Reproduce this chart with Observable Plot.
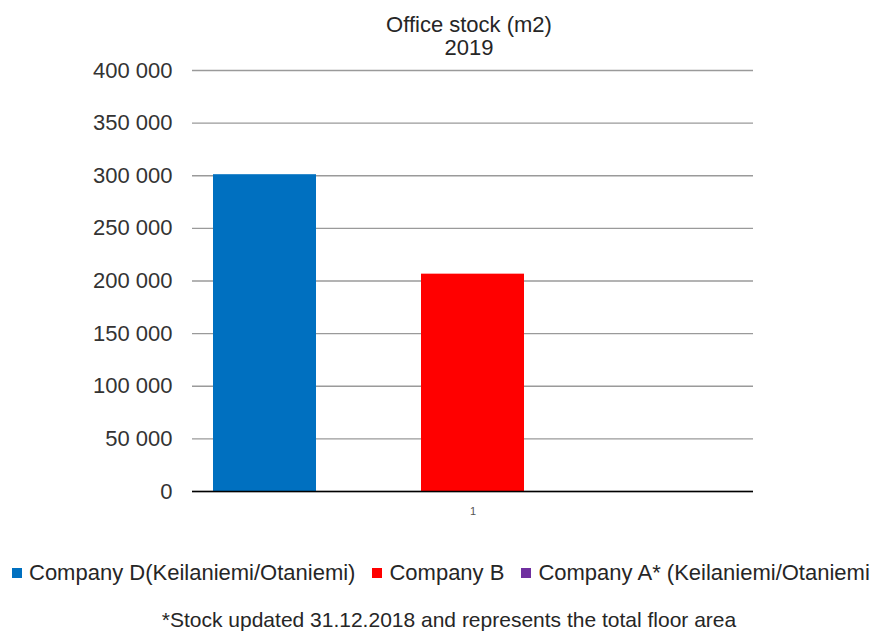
<!DOCTYPE html>
<html>
<head>
<meta charset="utf-8">
<script src="https://cdn.jsdelivr.net/npm/d3@7"></script>
<script src="https://cdn.jsdelivr.net/npm/@observablehq/plot@0.6"></script>
<style>
  html, body { margin: 0; padding: 0; background: #fff; }
  body { font-family: "Liberation Sans", Arial, sans-serif; color: #262626; }
  #wrap { position: relative; width: 875px; height: 631px; overflow: hidden; }
  #chart { position: absolute; left: 0; top: 0; }
  .title { position: absolute; left: 0; width: 938px; text-align: center; font-size: 22px; line-height: 23px; }
  #legend { position: absolute; left: 12px; top: 560px; display: flex; align-items: center; font-size: 22px; white-space: nowrap; }
  .item { display: flex; align-items: center; margin-right: 17px; }
  .sw { width: 10px; height: 10px; margin-right: 7px; }
  #caption { position: absolute; left: 0; width: 898px; top: 608px; text-align: center; font-size: 21px; white-space: nowrap; }
</style>
</head>
<body>
<div id="wrap">
  <div id="chart"></div>
  <div class="title" style="top:13px">Office stock (m2)</div>
  <div class="title" style="top:36px">2019</div>
  <div id="legend"></div>
  <div id="caption">*Stock updated 31.12.2018 and represents the total floor area</div>
</div>
<script>
// Data
const categories = ["1"];
const seriesNames = ["Company D(Keilaniemi/Otaniemi)", "Company B", "Company A* (Keilaniemi/Otaniemi"];
const seriesValues = [301000, 206500, 0];
const seriesColors = ["#0070C0", "#FF0000", "#7030A0"];
const yTicks = [0, 50000, 100000, 150000, 200000, 250000, 300000, 350000, 400000];

const rows = seriesNames.map((s, i) => ({cat: categories[0], series: s, value: seriesValues[i]}));
const fmt = d => d3.format(",")(d).replace(/,/g, " ");

const chart = Plot.plot({
  width: 875,
  height: 520,
  marginTop: 70,
  marginBottom: 29,
  marginLeft: 192,
  marginRight: 122,
  style: {fontFamily: "'Liberation Sans', Arial, sans-serif", fontSize: "22px", color: "#333", background: "transparent"},
  fx: {domain: categories, padding: 0, label: null, axis: null},
  x: {domain: seriesNames, paddingInner: 0.505, paddingOuter: 0.099, axis: null},
  y: {domain: [0, 400000], label: null},
  color: {domain: seriesNames, range: seriesColors},
  marks: [
    Plot.gridY(yTicks, {stroke: "#9a9a9a", strokeOpacity: 1, strokeWidth: 1.3}),
    Plot.axisY(yTicks, {tickSize: 0, tickPadding: 20, tickFormat: fmt, label: null, fill: "#333"}),
    Plot.barY(rows, {fx: "cat", x: "series", y: "value", fill: "series"}),
    Plot.ruleY([0], {stroke: "#000", strokeWidth: 1.6}),
    Plot.axisFx({anchor: "bottom", tickSize: 0, tickPadding: 16, fontSize: 11, label: null, fill: "#555"})
  ]
});
document.getElementById("chart").appendChild(chart);

const legend = document.getElementById("legend");
seriesNames.forEach((s, i) => {
  const it = document.createElement("div");
  it.className = "item";
  const sw = document.createElement("div");
  sw.className = "sw";
  sw.style.background = seriesColors[i];
  const tx = document.createElement("span");
  tx.textContent = s;
  it.appendChild(sw);
  it.appendChild(tx);
  legend.appendChild(it);
});
</script>
</body>
</html>
